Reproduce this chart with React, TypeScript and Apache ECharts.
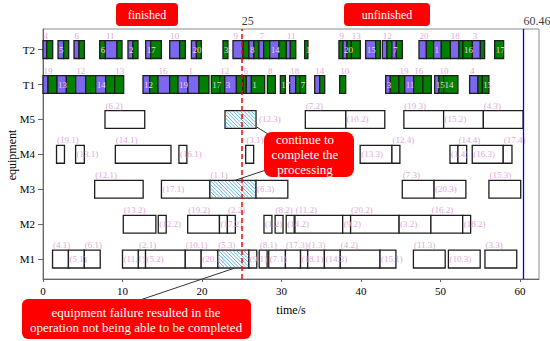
import React, { useEffect, useRef } from 'react';
import * as echarts from 'echarts';

// Row labels (y categories, bottom to top)
const rowNames = ['M1', 'M2', 'M3', 'M4', 'M5', 'T1', 'T2'];
const rowValues = [1, 2, 3, 4, 5, 6, 7];
const xTickValues = [0, 10, 20, 30, 40, 50, 60];
const cutTime = 25;
const makespan = 60.46;

// Machine operations: [start, end, operation]
const M1: [number, number, string][] = [
  [1.2, 3.2, '4.1'], [3.2, 5.2, '5.1'], [5.2, 7.2, '6.1'], [10.0, 12.0, '11.1'],
  [12.0, 12.9, '2.1'], [12.9, 17.9, '5.2'], [17.9, 19.9, '10.1'], [19.9, 22.0, '20.1'],
  [22.0, 25.9, '5.3'], [25.9, 26.9, '9.1'], [27.2, 28.2, '8.1'], [28.4, 30.5, '7.1'],
  [30.5, 32.4, '17.3'], [32.4, 33.3, '18.1'], [33.3, 35.4, '1.3'], [35.4, 37.4, '14.3'],
  [37.4, 42.4, '4.2'], [42.4, 44.4, '15.1'], [46.6, 50.6, '11.3'], [51.0, 55.0, '10.3'],
  [55.6, 59.6, '3.3'],
];
const M2: [number, number, string][] = [
  [10.1, 14.2, '13.2'], [14.5, 15.5, '12.2'], [18.2, 22.2, '19.2'], [22.2, 23.2, '17.2'],
  [23.2, 24.2, '2.2'], [27.8, 28.8, '1.2'], [29.2, 30.2, '8.2'], [30.6, 31.6, '14.2'],
  [31.7, 37.7, '11.2'], [37.7, 38.7, '9.2'], [38.7, 44.8, '20.2'], [44.8, 48.8, '3.2'],
  [48.8, 52.8, '16.2'], [52.8, 53.8, '18.2'],
];
const M3: [number, number, string][] = [
  [6.5, 12.6, '12.1'], [14.9, 21.0, '17.1'], [21.0, 26.8, '1.1'], [26.8, 30.8, '6.3'],
  [45.2, 49.2, '7.3'], [49.2, 53.2, '20.3'], [56.1, 60.1, '15.3'],
];
const M4: [number, number, string][] = [
  [1.7, 2.7, '19.1'], [4.1, 5.2, '13.1'], [9.1, 16.1, '14.1'], [17.1, 18.1, '16.1'],
  [25.5, 26.5, '3.1'], [39.9, 43.9, '13.3'], [43.9, 44.9, '12.4'], [51.2, 52.2, '1.4'],
  [52.2, 53.3, '14.4'], [54.0, 57.9, '16.3'], [57.9, 59.0, '17.4'],
];
const M5: [number, number, string][] = [
  [7.8, 12.8, '6.2'], [22.9, 26.8, '12.3'], [33.0, 38.1, '7.2'], [38.1, 43.0, '10.2'],
  [45.4, 50.4, '19.3'], [50.4, 55.4, '15.2'], [55.4, 60.4, '4.3'],
];
// Operations interrupted by the equipment failure
const failedOps = ['12.3', '1.1', '5.3'];

// Transport segments: [start, end, kind (P = empty move, G = loaded move), job, label side]
const T1: [number, number, string, string?, string?][] = [
  [0.00, 0.63, 'P', '19', 'a'], [0.63, 1.76, 'G'], [1.76, 2.94, 'P', '13', 'm'], [2.94, 4.11, 'G'],
  [4.11, 5.37, 'P', '12', 'a'], [5.37, 6.63, 'G'], [6.63, 7.89, 'P', '14', 'm'], [7.89, 9.02, 'G'],
  [9.02, 10.15, 'G', '13', 'a'],
  [12.58, 13.42, 'P', '12', 'm'], [13.42, 14.47, 'G'], [14.47, 15.94, 'P', '16', 'a'], [15.94, 16.98, 'G'],
  [16.98, 18.24, 'P', '19', 'm'], [18.24, 19.62, 'P', '1', 'a'], [19.62, 20.88, 'G'],
  [21.18, 22.23, 'G', '17', 'm'], [22.23, 22.86, 'G', '12', 'a'], [22.86, 24.33, 'P', '3', 'm'],
  [24.33, 25.16, 'G'], [25.16, 25.58, 'G', '6', 'a'], [25.58, 26.21, 'P'], [26.21, 27.89, 'G', '1', 'm'],
  [28.23, 29.23, 'G', '8', 'a'], [29.86, 30.49, 'G', '17', 'm'],
  [31.03, 31.79, 'P', '18', 'a'], [31.79, 32.30, 'G'], [32.30, 33.04, 'G', '7', 'm'],
  [34.18, 34.81, 'P', '14', 'a'], [34.81, 35.44, 'G'], [37.32, 38.08, 'G', '10', 'a'],
  [43.11, 43.70, 'P', '3', 'm'], [43.70, 44.78, 'G'], [44.78, 45.50, 'G', '19', 'a'],
  [45.50, 46.63, 'P', '11', 'm'], [46.63, 47.80, 'G', '16', 'a'], [47.80, 48.85, 'G'],
  [49.27, 49.81, 'P', '15', 'm'], [49.81, 50.40, 'G', '10', 'a'], [50.40, 52.20, 'G', '14', 'm'],
  [53.67, 54.72, 'P', '4', 'a'], [54.72, 55.27, 'G'], [55.27, 56.10, 'G', '15', 'm'],
];
const T2: [number, number, string, string?, string?][] = [
  [0.00, 0.47, 'P', '4', 'a'], [0.47, 1.22, 'G'], [1.89, 2.60, 'P', '5', 'm'], [2.60, 3.23, 'G'],
  [3.90, 4.53, 'P', '6', 'a'], [4.53, 5.21, 'G'], [7.13, 7.85, 'G', '6', 'm'], [7.85, 9.31, 'P', '11', 'a'],
  [9.31, 9.94, 'G'], [10.69, 11.32, 'P', '2', 'm'], [11.32, 11.95, 'G'], [12.92, 13.55, 'P', '17', 'm'],
  [13.55, 14.89, 'G'], [15.94, 17.19, 'P', '10', 'a'], [17.19, 17.91, 'G'], [18.67, 19.30, 'P', '20', 'm'],
  [19.30, 19.92, 'G'], [22.64, 23.27, 'G', '3', 'm'], [23.90, 25.16, 'P', '9', 'a'], [25.16, 25.91, 'G'],
  [25.91, 26.54, 'P', '8', 'm'], [26.54, 27.17, 'G'], [27.17, 27.76, 'P', '7', 'a'], [27.76, 28.52, 'G'],
  [28.52, 29.69, 'P', '14', 'm'], [29.69, 30.62, 'G'], [30.62, 31.12, 'P', '11', 'a'], [31.12, 31.80, 'G'],
  [32.92, 33.33, 'G', '1', 'm'], [37.23, 37.74, 'G', '9', 'a'], [37.74, 38.24, 'P', '20', 'm'],
  [38.24, 38.79, 'G'], [38.79, 39.92, 'G', '13', 'a'], [40.59, 41.85, 'P', '15', 'm'], [41.85, 42.44, 'G'],
  [42.69, 43.27, 'P', '12', 'a'], [43.27, 43.90, 'G'], [43.90, 44.45, 'P', '7', 'm'], [44.45, 45.21, 'G'],
  [47.30, 48.23, 'P', '20', 'a'], [48.23, 49.14, 'G'], [49.14, 50.11, 'P', '1', 'm'], [50.11, 51.25, 'G'],
  [51.25, 52.33, 'P', '18', 'a'], [52.33, 52.83, 'G'], [52.83, 54.01, 'G', '16', 'm'],
  [54.01, 55.02, 'P', '3', 'a'], [55.02, 55.56, 'G'], [56.82, 57.95, 'G', '17', 'm'],
];

type Item = { s: number; e: number; y: number; kind: string; label: string; side: string };

function buildItems(): Item[] {
  const items: Item[] = [];
  [M1, M2, M3, M4, M5].forEach((ops, r) => {
    ops.forEach((op, i) => {
      const failed = failedOps.includes(op[2]);
      let side = i % 2 === 0 ? 'a' : 'm';
      if (failed && side === 'm') side = 'r';
      items.push({ s: op[0], e: op[1], y: rowValues[r], kind: failed ? 'H' : 'W', label: '(' + op[2] + ')', side });
    });
  });
  [T1, T2].forEach((segs, r) => {
    segs.forEach((sg) => {
      items.push({ s: sg[0], e: sg[1], y: rowValues[5 + r], kind: sg[2], label: sg[3] || '', side: sg[4] || '' });
    });
  });
  return items;
}

const SERIF = '"Liberation Serif", "DejaVu Serif", serif';

export default function App() {
  const ref = useRef<HTMLDivElement>(null);
  useEffect(() => {
    if (!ref.current) return;
    const chart = echarts.init(ref.current, null, { renderer: 'svg' });
    const items = buildItems();
    const labelColor = '#e2a9dc';

    const renderItem = (params: any, api: any) => {
      const it = items[params.dataIndex];
      const a = api.coord([api.value(0), api.value(2)]);
      const b = api.coord([api.value(1), api.value(2)]);
      const h = api.size([0, 0.51])[1];
      const x0 = a[0], x1 = b[0], yc = a[1];
      const y0 = yc - h / 2, y1 = yc + h / 2;
      const fill = it.kind === 'P' ? '#7b68ee' : it.kind === 'G' ? '#008000' : '#ffffff';
      const children: any[] = [];
      children.push({
        type: 'rect', z2: 1,
        shape: { x: x0, y: y0, width: x1 - x0, height: h },
        style: { fill, stroke: '#1e1e1e', lineWidth: 1.3 },
      });
      if (it.kind === 'H') {
        const step = 3.6;
        for (let c = x0 - y1; c <= x1 - y0; c += step) {
          const ya = Math.max(y0 + 0.6, x0 + 0.6 - c);
          const yb = Math.min(y1 - 0.6, x1 - 0.6 - c);
          if (yb > ya) {
            children.push({
              type: 'line', z2: 2,
              shape: { x1: c + ya, y1: ya, x2: c + yb, y2: yb },
              style: { stroke: '#4fa8e0', lineWidth: 0.9 },
            });
          }
        }
      }
      if (it.label) {
        let tx = x0 + 1, ty = yc, va = 'middle';
        if (it.side === 'a') { tx = x0 + 0.5; ty = y0 - 0.5; va = 'bottom'; }
        if (it.side === 'r') { tx = x1 + 3; ty = yc; }
        const inside = it.side === 'm' && (it.kind === 'P' || it.kind === 'G');
        children.push({
          type: 'text', z2: 10,
          x: tx, y: ty,
          style: { text: it.label, fill: inside ? '#f0d4ee' : labelColor, font: '9px ' + SERIF, align: 'left', verticalAlign: va },
        });
      }
      return { type: 'group', children };
    };

    const option: any = {
      animation: false,
      backgroundColor: '#ffffff',
      grid: {
        left: 43, right: 11, top: 29, bottom: 62, show: true, borderColor: '#8c8c8c', borderWidth: 1,
        containLabel: false, outerBoundsMode: 'none',
      },
      xAxis: {
        type: 'value', min: 0, max: 62.4,
        axisLine: { show: true, onZero: false, lineStyle: { color: '#666', width: 1 } },
        axisTick: { show: true, customValues: xTickValues, length: 3, lineStyle: { color: '#666' } },
        axisLabel: { customValues: xTickValues, color: '#000', fontFamily: SERIF, fontSize: 11, margin: 6 },
        splitLine: { show: false },
        name: 'time/s', nameLocation: 'middle', nameGap: 25,
        nameTextStyle: { color: '#000', fontFamily: SERIF, fontSize: 12 },
      },
      yAxis: {
        type: 'value', min: 0.43, max: 7.59,
        axisLine: { show: true, onZero: false, lineStyle: { color: '#666', width: 1 } },
        axisTick: { show: true, customValues: rowValues, length: 5, lineStyle: { color: '#666' } },
        axisLabel: {
          customValues: rowValues, color: '#000', fontFamily: SERIF, fontSize: 11, margin: 8,
          formatter: (v: number) => rowNames[Math.round(v) - 1] || '',
        },
        splitLine: { show: false },
      },
      series: [
        {
          type: 'custom',
          renderItem,
          clip: false,
          encode: { x: [0, 1], y: 2 },
          data: items.map((it) => [it.s, it.e, it.y]),
          z: 2,
        },
        {
          type: 'scatter',
          z: 3,
          symbolSize: 1,
          itemStyle: { color: 'rgba(0,0,0,0)' },
          clip: false,
          data: [[cutTime, 7.59], [makespan, 7.59]],
          label: {
            show: true, position: 'top', align: 'left', distance: 2,
            color: '#000', fontFamily: SERIF, fontSize: 12,
            formatter: (p: any) => String(p.value[0]),
          },
          labelLayout: { hideOverlap: false },
          markLine: {
            silent: true, symbol: ['none', 'none'], label: { show: false },
            data: [
              { xAxis: cutTime, lineStyle: { color: '#ff0000', type: [5, 3], width: 1.5 } },
              { xAxis: makespan, lineStyle: { color: '#0000ff', type: 'solid', width: 1.3 } },
            ],
          },
        },
      ],
      graphic: [
        {
          type: 'text', x: 12, y: 155, rotation: Math.PI / 2,
          style: { text: 'equipment', fill: '#000', font: '12px ' + SERIF, align: 'center', verticalAlign: 'middle' },
        },
        { type: 'rect', shape: { x: 116, y: 3, width: 62, height: 23, r: 4 }, style: { fill: '#ff0000' } },
        { type: 'text', x: 147, y: 14.5, style: { text: 'finished', fill: '#fff', font: '12px ' + SERIF, align: 'center', verticalAlign: 'middle' } },
        { type: 'rect', shape: { x: 344, y: 3, width: 86, height: 23, r: 4 }, style: { fill: '#ff0000' } },
        { type: 'text', x: 387, y: 14.5, style: { text: 'unfinished', fill: '#fff', font: '12px ' + SERIF, align: 'center', verticalAlign: 'middle' } },
        { type: 'line', shape: { x1: 256.7, y1: 127, x2: 268, y2: 134 }, style: { stroke: '#333', lineWidth: 1 }, z: 10 },
        { type: 'line', shape: { x1: 234, y1: 180.7, x2: 266, y2: 170 }, style: { stroke: '#333', lineWidth: 1 }, z: 10 },
        { type: 'rect', shape: { x: 264, y: 132, width: 90, height: 45, r: 8 }, style: { fill: '#ff0000' }, z: 11 },
        {
          type: 'text', x: 305, y: 154.5, z: 12,
          style: { text: 'continue to\ncomplete the\nprocessing', fill: '#fff', font: '13px ' + SERIF, lineHeight: 15, align: 'center', verticalAlign: 'middle' },
        },
        { type: 'line', shape: { x1: 234, y1: 268.3, x2: 140, y2: 300 }, style: { stroke: '#333', lineWidth: 1 }, z: 10 },
        { type: 'rect', shape: { x: 22, y: 299, width: 229, height: 40, r: 6 }, style: { fill: '#ff0000' }, z: 11 },
        {
          type: 'text', x: 136, y: 319.5, z: 12,
          style: { text: 'equipment failure resulted in the\noperation not being able to be completed', fill: '#fff', font: '13px ' + SERIF, lineHeight: 15, align: 'center', verticalAlign: 'middle' },
        },
      ],
    };
    chart.setOption(option);
    return () => chart.dispose();
  }, []);
  return <div ref={ref} style={{ position: 'fixed', left: 0, top: 0, width: 550, height: 341 }} />;
}
